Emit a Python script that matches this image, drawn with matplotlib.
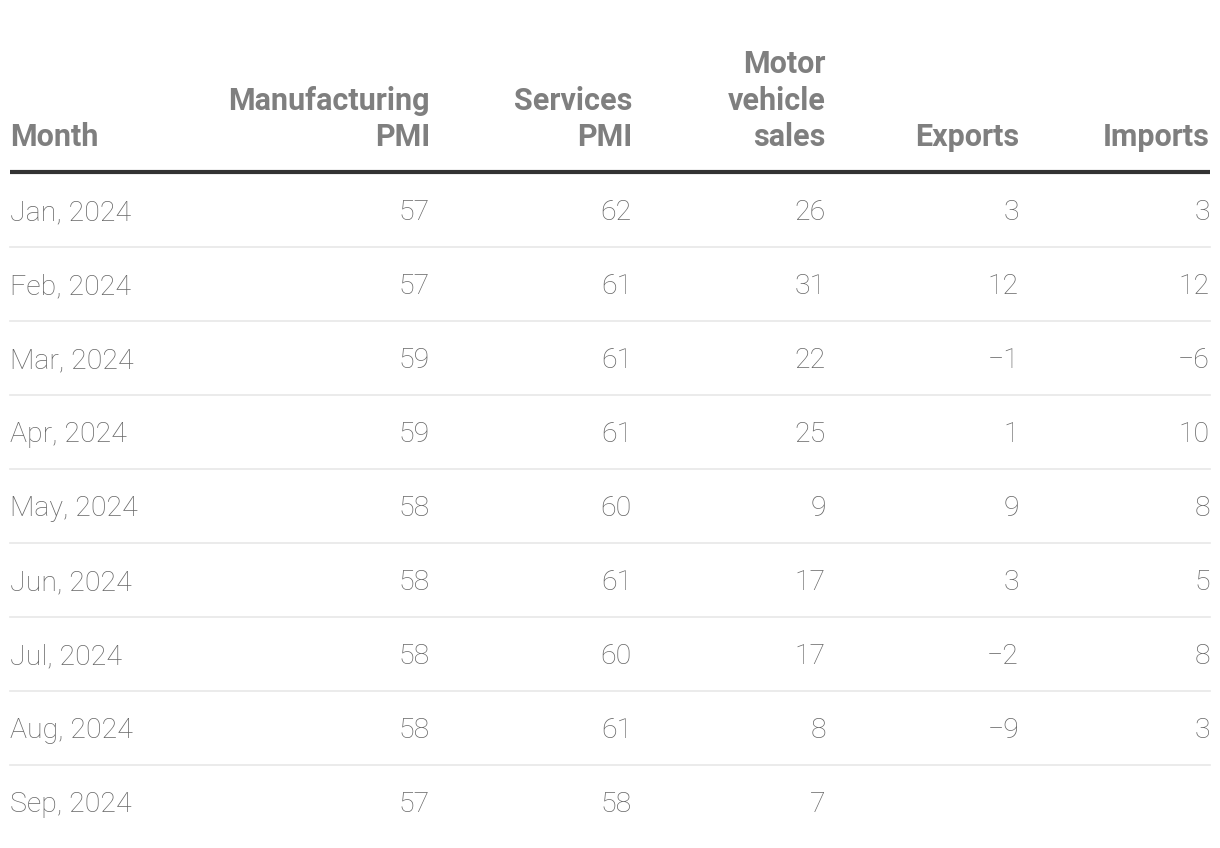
import matplotlib
matplotlib.use("Agg")
import matplotlib.pyplot as plt

plt.rcParams["font.family"] = ["Roboto", "DejaVu Sans"]

MONTHS = ["Jan, 2024", "Feb, 2024", "Mar, 2024", "Apr, 2024", "May, 2024",
          "Jun, 2024", "Jul, 2024", "Aug, 2024", "Sep, 2024"]
MANUFACTURING_PMI = [57, 57, 59, 59, 58, 58, 58, 58, 57]
SERVICES_PMI = [62, 61, 61, 61, 60, 61, 60, 61, 58]
MOTOR_VEHICLE_SALES = [26, 31, 22, 25, 9, 17, 17, 8, 7]
EXPORTS = [3, 12, -1, 1, 9, 3, -2, -9, None]
IMPORTS = [3, 12, -6, 10, 8, 5, 8, 3, None]

HEADERS = ["Month", "Manufacturing\nPMI", "Services\nPMI", "Motor\nvehicle\nsales", "Exports", "Imports"]
COLUMNS = [MANUFACTURING_PMI, SERVICES_PMI, MOTOR_VEHICLE_SALES, EXPORTS, IMPORTS]

W, H = 1220, 848
LEFT, RIGHT = 10, 1210
COL_RIGHT = [430, 632, 826, 1019, 1210]
HEADER_BASE = 146
RULE_Y = 172
ROW0, ROW_H = 210, 74

TEXT_C = "#666666"
HEAD_C = "#7f7f7f"
HEAD_FS = 22
BODY_FS = 20.5


def fmt(v):
    if v is None:
        return ""
    return f"\u2212{abs(v)}" if v < 0 else str(v)


fig = plt.figure(figsize=(W / 100, H / 100), dpi=100)
ax = fig.add_axes([0, 0, 1, 1])
ax.set_xlim(0, W)
ax.set_ylim(H, 0)
ax.axis("off")

# header
ax.text(LEFT, HEADER_BASE, HEADERS[0], ha="left", va="baseline", fontsize=HEAD_FS,
        fontweight="bold", color=HEAD_C)
for x, h in zip(COL_RIGHT, HEADERS[1:]):
    ax.text(x, HEADER_BASE, h, ha="right", va="baseline", fontsize=HEAD_FS,
            fontweight="bold", color=HEAD_C, linespacing=1.27, multialignment="right")
ax.plot([LEFT, RIGHT], [RULE_Y, RULE_Y], color="#333333", lw=3, solid_capstyle="butt")

# body rows
for i, m in enumerate(MONTHS):
    y = ROW0 + i * ROW_H
    ax.text(LEFT, y + 10, m, ha="left", va="baseline", fontsize=BODY_FS,
            fontweight="light", color=TEXT_C)
    for x, col in zip(COL_RIGHT, COLUMNS):
        ax.text(x, y + 10, fmt(col[i]), ha="right", va="baseline", fontsize=BODY_FS,
                fontweight="light", color=TEXT_C)
    if i < len(MONTHS) - 1:
        ax.plot([LEFT, RIGHT], [y + ROW_H / 2, y + ROW_H / 2], color="#e8e8e8", lw=1.2)

fig.savefig("out.png", dpi=100)
